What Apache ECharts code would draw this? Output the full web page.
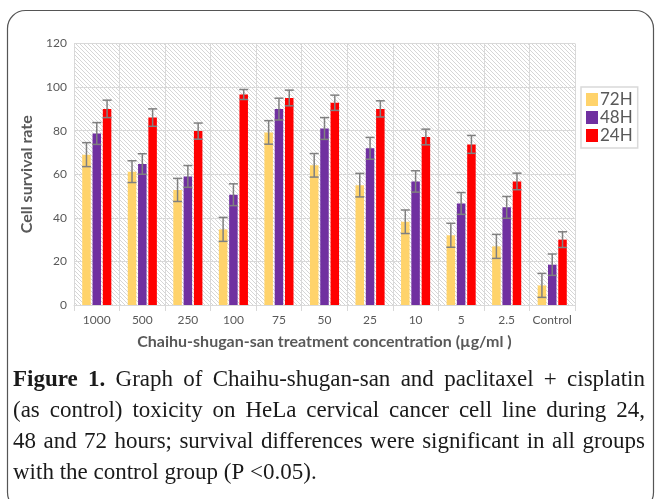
<!DOCTYPE html>
<html>
<head>
<meta charset="utf-8">
<script src="https://cdn.jsdelivr.net/npm/echarts@6/dist/echarts.min.js"></script>
<style>html,body{margin:0;padding:0;background:#fff;}#main{width:655px;height:499px;}</style>
</head>
<body>
<div id="main"></div>
<script>
var categories = ['1000','500','250','100','75','50','25','10','5','2.5','Control'];
var seriesNames = ['72H','48H','24H'];
var values72 = [69, 61.2, 52.8, 34.7, 79.2, 64.1, 55, 38.2, 32, 26.9, 9];
var values48 = [78.7, 64.7, 59, 50.6, 89.9, 81, 71.9, 56.7, 46.6, 44.8, 18.5];
var values24 = [90, 86, 79.8, 96.6, 95, 92.8, 90, 77.1, 73.7, 56.7, 30];
var errors72 = [5.5, 5, 5.3, 5.5, 5.4, 5.4, 5.4, 5.4, 5.5, 5.5, 5.5];
var errors48 = [5, 4.7, 5, 5, 5, 5, 5, 4.9, 5, 5, 4.9];
var errors24 = [4, 4, 3.7, 2.3, 3.6, 3.5, 3.7, 3.6, 4.1, 3.8, 3.6];
var yTicks = {min: 0, max: 120, interval: 20};
var captionLines = [
  'Figure 1. Graph of Chaihu-shugan-san and paclitaxel + cisplatin',
  '(as control) toxicity on HeLa cervical cancer cell line during 24,',
  '48 and 72 hours; survival differences were significant in all groups',
  'with the control group (P <0.05).'
];

var colors = ['#FFD36B', '#7030A0', '#FF0000'];
var allValues = [values72, values48, values24];
var allErrors = [errors72, errors48, errors24];
var BAR_W = 8.5, GAP = 1.8;

// hatch pattern
var PS = 4;
var pc = document.createElement('canvas');
pc.width = PS; pc.height = PS;
var pctx = pc.getContext('2d');
pctx.fillStyle = '#ffffff'; pctx.fillRect(0,0,PS,PS);
pctx.strokeStyle = '#d6d6d6'; pctx.lineWidth = 1;
pctx.beginPath();
pctx.moveTo(0,0); pctx.lineTo(PS,PS);
pctx.moveTo(-1,PS-1); pctx.lineTo(1,PS+1);
pctx.moveTo(PS-1,-1); pctx.lineTo(PS+1,1);
pctx.stroke();

var chart = echarts.init(document.getElementById('main'), null, {renderer: 'canvas'});

var series = [];
seriesNames.forEach(function (name, i) {
  series.push({
    name: name, type: 'bar', data: allValues[i], barWidth: BAR_W, barGap: (GAP / BAR_W * 100) + '%',
    itemStyle: {color: colors[i]}, z: 2
  });
});
seriesNames.forEach(function (name, i) {
  var d = allValues[i].map(function (v, k) { return [k, v, allErrors[i][k]]; });
  series.push({
    type: 'custom', name: name + ' err', data: d, z: 3, silent: true,
    encode: {x: 0, y: 1},
    renderItem: function (params, api) {
      var k = api.value(0), v = api.value(1), e = api.value(2);
      var off = (i - 1) * (BAR_W + GAP);
      var top = api.coord([k, v + e]);
      var bot = api.coord([k, v - e]);
      var x = top[0] + off;
      var h = 4.5;
      var st = {stroke: '#808080', lineWidth: 1.5};
      return {type: 'group', children: [
        {type: 'line', shape: {x1: x, y1: top[1], x2: x, y2: bot[1]}, style: st},
        {type: 'line', shape: {x1: x - h, y1: top[1], x2: x + h, y2: top[1]}, style: st},
        {type: 'line', shape: {x1: x - h, y1: bot[1], x2: x + h, y2: bot[1]}, style: st}
      ]};
    }
  });
});

// caption with justification
var capFont = '23px "Liberation Serif"';
var capFontB = 'bold 23px "Liberation Serif"';
var mc = document.createElement('canvas').getContext('2d');
var capLeft = 13, capRight = 645;
var capY = [380, 411, 442, 473];
var graphics = [{
  type: 'rect', shape: {x: 7.5, y: 10.5, width: 646, height: 500, r: 18},
  style: {fill: 'none', stroke: '#555555', lineWidth: 1.2}, silent: true
}];
captionLines.forEach(function (line, li) {
  var words = line.split(' ');
  var fonts = words.map(function (w, wi) { return (li === 0 && wi < 2) ? capFontB : capFont; });
  var widths = words.map(function (w, wi) { mc.font = fonts[wi]; return mc.measureText(w).width; });
  var total = widths.reduce(function (a, b) { return a + b; }, 0);
  mc.font = capFont;
  var spaceW = mc.measureText(' ').width;
  var justify = li < captionLines.length - 1;
  var gap = justify ? (capRight - capLeft - total) / (words.length - 1) : spaceW;
  var x = capLeft;
  words.forEach(function (w, wi) {
    graphics.push({
      type: 'text', x: x, y: capY[li], silent: true,
      style: {text: w, font: fonts[wi], fill: '#1a1a1a', textVerticalAlign: 'middle', textAlign: 'left'}
    });
    x += widths[wi] + gap;
  });
});

chart.setOption({
  animation: false,
  color: colors,
  grid: {left: 74, right: 80, top: 43.5, bottom: 194, show: true, borderWidth: 0,
    backgroundColor: {image: pc, repeat: 'repeat'}},
  legend: {
    data: seriesNames, orient: 'vertical', left: 581, top: 87,
    itemWidth: 12, itemHeight: 13, itemGap: 1, icon: 'rect',
    borderColor: '#d9d9d9', borderWidth: 1.5, padding: [4, 5, 4, 5],
    textStyle: {fontSize: 17, lineHeight: 17, color: '#595959', fontFamily: 'Lato', padding: [0, 0, 0, -3]}
  },
  xAxis: {
    type: 'category', data: categories,
    name: 'Chaihu-shugan-san treatment concentration (µg/ml )',
    nameLocation: 'middle', nameGap: 29,
    nameTextStyle: {fontSize: 16, fontWeight: 'bold', color: '#595959', fontFamily: 'Lato'},
    axisLine: {lineStyle: {color: '#d9d9d9', width: 1}},
    axisTick: {show: true, length: 6, lineStyle: {color: '#d9d9d9'}},
    axisLabel: {fontSize: 12, color: '#595959', fontFamily: 'Lato', margin: 9, interval: 0},
    splitLine: {show: true, lineStyle: {color: '#d9d9d9', width: 1}}
  },
  yAxis: {
    type: 'value', min: yTicks.min, max: yTicks.max, interval: yTicks.interval,
    name: 'Cell survival rate', nameLocation: 'middle', nameGap: 26, nameRotate: 90,
    nameTextStyle: {fontSize: 16, fontWeight: 'bold', color: '#595959', fontFamily: 'Lato'},
    axisLine: {show: false}, axisTick: {show: false},
    axisLabel: {fontSize: 12, color: '#595959', fontFamily: 'Lato', margin: 7},
    splitLine: {lineStyle: {color: '#d9d9d9', width: 1}}
  },
  series: series,
  graphic: graphics
});
</script>
</body>
</html>
